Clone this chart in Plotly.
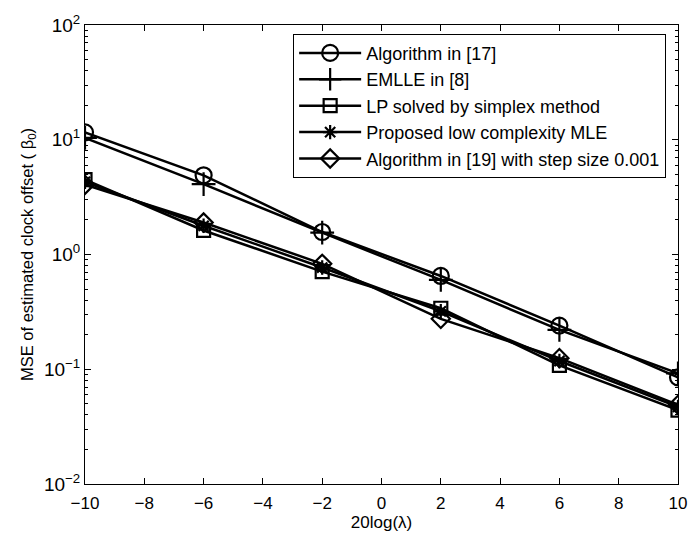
import plotly.graph_objects as go

x_vals = [-10, -6, -2, 2, 6, 10]
alg17 = [11.6, 4.9, 1.57, 0.65, 0.24, 0.085]
emlle8 = [10.4, 4.1, 1.55, 0.60, 0.22, 0.092]
lp_simplex = [4.5, 1.62, 0.71, 0.34, 0.108, 0.044]
proposed_mle = [4.3, 1.78, 0.77, 0.32, 0.118, 0.047]
alg19 = [4.05, 1.9, 0.83, 0.275, 0.125, 0.049]

names = ["Algorithm in [17]", "EMLLE in [8]", "LP solved by simplex method",
         "Proposed low complexity MLE", "Algorithm in [19] with step size 0.001"]
series = [alg17, emlle8, lp_simplex, proposed_mle, alg19]
symbols = ["circle-open", "cross-thin-open", "square-open", "asterisk-open", "diamond-open"]
sizes = [16, 17, 13, 12, 14]

x_ticks = [-10, -8, -6, -4, -2, 0, 2, 4, 6, 8, 10]
y_ticks = [0.01, 0.1, 1, 10, 100]
y_ticktext = ["10<sup>−2</sup>", "10<sup>−1</sup>", "10<sup>0</sup>", "10<sup>1</sup>", "10<sup>2</sup>"]

fig = go.Figure()
for name, ys, sym, sz in zip(names, series, symbols, sizes):
    fig.add_trace(go.Scatter(
        x=x_vals, y=ys, mode="lines+markers", name=name,
        line=dict(color="black", width=2.5),
        marker=dict(symbol=sym, size=sz, color="black",
                    line=dict(color="black", width=2.2)),
    ))

fig.update_layout(
    width=700, height=537,
    margin=dict(l=85, r=22, t=19, b=52),
    paper_bgcolor="white", plot_bgcolor="white",
    font=dict(family="Liberation Sans, Arial, sans-serif", size=17, color="black"),
    legend=dict(
        x=0.351, y=0.981, xanchor="left", yanchor="top",
        bordercolor="black", borderwidth=1, bgcolor="white",
        font=dict(size=18), tracegroupgap=0, itemwidth=62,
    ),
    xaxis=dict(
        range=[-10, 10], tickvals=x_ticks, ticks="inside", ticklen=6,
        tickcolor="black", showline=True, linecolor="black", linewidth=1,
        mirror="ticks", showgrid=False, zeroline=False,
        tickfont=dict(size=17), ticklabelstandoff=4,
        title=dict(text="20log(λ)", font=dict(size=17), standoff=0),
    ),
    yaxis=dict(
        type="log", range=[-2, 2], tickvals=y_ticks, ticktext=y_ticktext,
        ticks="inside", ticklen=6, tickcolor="black",
        showline=True, linecolor="black", linewidth=1, mirror="ticks",
        showgrid=False, zeroline=False, tickfont=dict(size=19),
        minor=dict(ticks="inside", ticklen=3, tickcolor="black", showgrid=False,
                   tickvals=[m * 10 ** e for e in range(-2, 2) for m in range(2, 10)]),
        title=dict(text="MSE of estimated clock offset ( β<sub>0</sub>)", font=dict(size=16.5), standoff=6),
    ),
)

fig.write_html("out.html")
